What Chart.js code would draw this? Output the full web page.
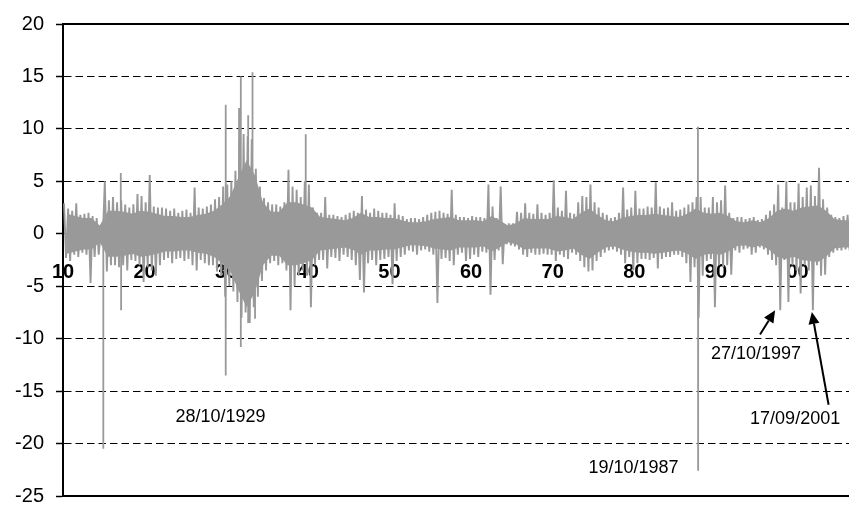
<!DOCTYPE html>
<html>
<head>
<title>Daily returns 1910-2006</title>
<script src="https://cdn.jsdelivr.net/npm/chart.js@4.4.0/dist/chart.umd.min.js"></script>
<style>
  html, body { margin: 0; padding: 0; background: #fff; overflow: hidden; }
  #wrap { width: 849px; height: 512px; overflow: hidden; }
</style>
</head>
<body>
<div id="wrap"><canvas id="returns" width="849" height="520"></canvas></div>
<script>
// first year on the axis; each array below has one value per year from here
var startYear = 1910;

// half-year envelope of the daily returns (%): first half hi/lo, second half hi/lo
var hiA = [
  2.9, 2.2, 1.8, 2.0, 1.5, 5.0, 3.5, 3.2, 2.5, 3.8,
  3.0, 2.6, 2.5, 2.2, 2.0, 2.3, 4.4, 2.4, 2.8, 3.5,
  4.7, 6.0, 9.5, 9.0, 4.5, 3.0, 2.8, 3.0, 4.5, 3.5,
  4.7, 2.0, 3.5, 1.8, 1.6, 2.0, 2.0, 2.3, 2.4, 2.0,
  1.8, 1.8, 1.4, 1.5, 1.6, 2.0, 2.2, 1.9, 1.8, 1.6,
  1.7, 1.6, 4.7, 1.5, 0.9, 1.0, 2.0, 2.0, 2.8, 1.8,
  5.1, 2.2, 2.0, 3.0, 3.5, 3.0, 2.0, 1.5, 2.0, 2.3,
  4.1, 2.4, 2.5, 2.6, 2.5, 2.2, 2.5, 3.0, 3.5, 2.5,
  3.0, 4.6, 1.5, 1.6, 1.5, 1.3, 1.8, 2.8, 2.5, 3.0,
  4.8, 4.4, 3.6, 3.3, 1.8, 1.5, 1.8
];
var loA = [
  -2.3, -2.0, -1.8, -4.7, -2.0, -3.6, -3.0, -3.0, -2.5, -3.0,
  -3.2, -4.0, -2.5, -2.8, -2.3, -2.4, -3.5, -2.8, -3.0, -4.0,
  -5.0, -6.5, -7.5, -7.0, -4.5, -2.8, -3.0, -3.5, -5.0, -3.5,
  -7.0, -2.5, -3.3, -2.3, -2.0, -2.5, -4.4, -2.8, -3.0, -2.4,
  -4.8, -2.2, -1.6, -2.0, -1.5, -2.0, -2.4, -2.6, -2.0, -2.6,
  -2.0, -1.7, -5.8, -1.6, -1.0, -1.2, -2.0, -1.8, -2.0, -2.0,
  -2.6, -2.2, -1.8, -2.6, -3.6, -2.6, -1.8, -1.5, -2.0, -2.2,
  -2.8, -2.4, -2.3, -2.4, -2.2, -2.0, -2.8, -3.2, -4.0, -2.4,
  -3.0, -3.0, -1.6, -1.5, -2.0, -1.3, -2.0, -3.0, -2.5, -3.0,
  -5.7, -3.5, -3.0, -3.9, -1.8, -1.6, -1.6
];
var hiB = [
  2.4, 2.9, 1.9, 1.7, 0.3, 3.2, 3.0, 2.8, 2.8, 3.6,
  5.6, 2.5, 2.4, 2.4, 2.2, 2.0, 2.5, 2.6, 3.3, 4.5,
  5.0, 9.0, 9.3, 6.2, 3.4, 2.8, 2.6, 6.1, 4.2, 5.0,
  2.5, 2.0, 1.8, 1.7, 1.8, 2.2, 3.6, 2.0, 2.2, 2.0,
  2.9, 1.7, 1.5, 1.4, 1.8, 2.1, 2.0, 4.2, 1.6, 1.5,
  1.6, 1.5, 2.6, 4.5, 1.0, 2.1, 2.9, 1.9, 2.0, 2.0,
  2.5, 4.1, 1.9, 3.6, 4.7, 2.5, 1.8, 1.6, 4.4, 2.5,
  2.4, 2.6, 4.9, 2.4, 3.0, 2.3, 2.8, 3.5, 2.5, 3.5,
  3.2, 2.0, 1.6, 1.4, 1.6, 1.4, 2.2, 4.7, 5.0, 3.0,
  3.5, 4.6, 6.3, 2.5, 1.6, 1.7, 1.6
];
var loB = [
  -2.6, -2.2, -2.0, -2.2, -0.5, -3.0, -3.2, -3.5, -2.6, -4.6,
  -3.5, -3.0, -2.3, -2.4, -2.6, -3.0, -2.5, -3.0, -3.6, -6.0,
  -5.5, -8.0, -8.5, -6.0, -3.5, -2.6, -2.8, -7.3, -4.0, -4.0,
  -3.0, -2.5, -2.2, -2.6, -2.2, -3.0, -5.6, -2.5, -2.5, -2.2,
  -2.6, -2.0, -1.7, -1.6, -1.7, -6.6, -2.3, -3.0, -1.8, -2.4,
  -2.2, -1.8, -2.5, -2.9, -1.1, -1.5, -2.2, -2.0, -1.9, -2.0,
  -2.0, -2.4, -2.0, -3.2, -3.5, -2.2, -1.6, -1.7, -2.8, -3.5,
  -2.4, -2.5, -3.3, -2.2, -2.0, -2.2, -4.6, -8.0, -2.6, -7.0,
  -3.2, -3.9, -1.8, -1.4, -1.8, -1.5, -2.5, -7.3, -6.5, -3.5,
  -3.0, -7.3, -4.0, -2.2, -1.6, -1.5, -1.7
];
// half-width of the solid part of the band, per year
var core = [
  1.9, 1.7, 1.5, 1.5, 0.8, 2.2, 2.2, 2.1, 1.9, 2.2,
  2.1, 1.9, 1.7, 1.7, 1.6, 1.6, 1.8, 1.9, 2.2, 2.8,
  3.6, 5.4, 7.0, 5.6, 3.0, 2.1, 2.1, 3.0, 3.0, 2.8,
  2.5, 1.6, 1.5, 1.4, 1.3, 1.5, 2.0, 1.6, 1.6, 1.5,
  1.5, 1.3, 1.1, 1.1, 1.2, 1.4, 1.5, 1.6, 1.3, 1.3,
  1.3, 1.2, 1.7, 1.3, 0.8, 1.0, 1.5, 1.4, 1.4, 1.4,
  1.7, 1.6, 1.4, 2.0, 2.4, 1.8, 1.3, 1.2, 1.5, 1.7,
  1.8, 1.8, 1.9, 1.8, 1.7, 1.6, 1.9, 2.4, 2.0, 1.9,
  2.0, 1.7, 1.2, 1.1, 1.3, 1.1, 1.5, 2.2, 2.4, 2.2,
  2.5, 2.6, 2.7, 2.2, 1.4, 1.3, 1.3
];

// isolated extreme days (date as decimal year, return %)
var spikeDates = [1914.94, 1917.08, 1917.12, 1929.93, 1929.94, 1931.57, 1931.78, 1931.79,
                  1932.67, 1932.70, 1933.22, 1933.53, 1939.74, 1987.79, 1987.80, 1987.83];
var spikeValues = [-20.5, 5.8, -7.3, -13.5, 12.3, 12.0, 15.0, -10.8,
                   -8.5, 11.3, 15.4, -8.1, 9.5, 10.2, -22.6, -8.0];

var tickYears = [1910, 1920, 1930, 1940, 1950, 1960, 1970, 1980, 1990, 2000];
var yTicks = [-25, -20, -15, -10, -5, 0, 5, 10, 15, 20];

// labels and arrows
var noteTexts = ['28/10/1929', '19/10/1987', '27/10/1997', '17/09/2001'];
var noteYears = [1929.3, 1979.9, 1994.9, 1999.7];
var noteValues = [-17.5, -22.3, -11.5, -17.7];
var arrowFromYears = [1995.4, 2003.8];
var arrowFromValues = [-9.6, -16.3];
var arrowToYears = [1997.25, 2001.75];
var arrowToValues = [-7.3, -7.45];

var grey = '#999999';
var font = 'Arial, "Liberation Sans", sans-serif';

var zigzag = [], coreTop = [], coreBottom = [], spikes = [];
for (var i = 0; i < hiA.length; i++) {
    var yr = startYear + i;
    zigzag.push({ x: yr + 0.125, y: hiA[i] });
    zigzag.push({ x: yr + 0.375, y: loA[i] });
    zigzag.push({ x: yr + 0.625, y: hiB[i] });
    zigzag.push({ x: yr + 0.875, y: loB[i] });
    coreTop.push({ x: yr + 0.5, y: core[i] });
    coreBottom.push({ x: yr + 0.5, y: -core[i] });
}
for (var j = 0; j < spikeDates.length; j++) {
    spikes.push({ x: spikeDates[j], y: 0 });
    spikes.push({ x: spikeDates[j], y: spikeValues[j] });
    spikes.push({ x: spikeDates[j], y: 0 });
}

// top and bottom edges of the plot frame
var framePlugin = {
    id: 'frame',
    afterDatasetsDraw: function (chart) {
        var ctx = chart.ctx, a = chart.chartArea;
        ctx.save();
        ctx.strokeStyle = '#000';
        ctx.lineWidth = 2;
        ctx.beginPath();
        ctx.moveTo(a.left, a.top);
        ctx.lineTo(a.right, a.top);
        ctx.moveTo(a.left, a.bottom);
        ctx.lineTo(a.right, a.bottom);
        ctx.stroke();
        ctx.restore();
    }
};

var notesPlugin = {
    id: 'notes',
    afterDraw: function (chart) {
        var ctx = chart.ctx, sx = chart.scales.x, sy = chart.scales.y;
        ctx.save();
        ctx.fillStyle = '#000';
        ctx.font = '18px ' + font;
        ctx.textAlign = 'center';
        ctx.textBaseline = 'middle';
        for (var k = 0; k < noteTexts.length; k++) {
            ctx.fillText(noteTexts[k], sx.getPixelForValue(noteYears[k]), sy.getPixelForValue(noteValues[k]));
        }
        ctx.strokeStyle = '#000';
        ctx.lineWidth = 2;
        for (var m = 0; m < arrowFromYears.length; m++) {
            var x1 = sx.getPixelForValue(arrowFromYears[m]), y1 = sy.getPixelForValue(arrowFromValues[m]);
            var x2 = sx.getPixelForValue(arrowToYears[m]), y2 = sy.getPixelForValue(arrowToValues[m]);
            var ang = Math.atan2(y2 - y1, x2 - x1);
            var headLen = 12, headW = 5.5;
            var bx = x2 - headLen * Math.cos(ang), by = y2 - headLen * Math.sin(ang);
            ctx.beginPath();
            ctx.moveTo(x1, y1);
            ctx.lineTo(bx, by);
            ctx.stroke();
            ctx.beginPath();
            ctx.moveTo(x2, y2);
            ctx.lineTo(bx + headW * Math.sin(ang), by - headW * Math.cos(ang));
            ctx.lineTo(bx - headW * Math.sin(ang), by + headW * Math.cos(ang));
            ctx.closePath();
            ctx.fill();
        }
        ctx.restore();
    }
};

var chart = new Chart(document.getElementById('returns').getContext('2d'), {
    type: 'line',
    data: {
        datasets: [
            { data: coreTop, borderWidth: 0, pointRadius: 0, fill: false },
            { data: coreBottom, borderWidth: 0, pointRadius: 0, fill: '-1', backgroundColor: grey },
            { data: zigzag, borderColor: grey, borderWidth: 1.9, pointRadius: 0, fill: false },
            { data: spikes, borderColor: grey, borderWidth: 1.8, pointRadius: 0, fill: false }
        ]
    },
    options: {
        responsive: false,
        animation: false,
        devicePixelRatio: 1,
        layout: { padding: { top: 21, bottom: 17, left: 0, right: 0 } },
        plugins: { legend: { display: false }, tooltip: { enabled: false } },
        elements: { line: { tension: 0 } },
        scales: {
            x: {
                type: 'linear',
                min: 1910,
                max: 2006.3,
                position: { y: 0 },
                z: 1,
                afterBuildTicks: function (s) {
                    s.ticks = tickYears.map(function (v) { return { value: v }; });
                },
                ticks: {
                    autoSkip: false,
                    maxRotation: 0,
                    padding: 27,
                    color: '#000',
                    font: { family: font, size: 20, weight: 'bold' },
                    callback: function (v) { return String(v % 100).padStart(2, '0'); }
                },
                grid: { display: false, drawTicks: false },
                border: { display: false }
            },
            y: {
                min: -25,
                max: 20,
                afterBuildTicks: function (s) {
                    s.ticks = yTicks.map(function (v) { return { value: v }; });
                },
                afterFit: function (s) { s.width = 63; },
                ticks: {
                    padding: 12,
                    color: '#000',
                    font: { family: font, size: 20 }
                },
                grid: {
                    color: function (c) {
                        return (c.tick && (c.tick.value === 20 || c.tick.value === -25)) ? 'rgba(0,0,0,0)' : '#000';
                    },
                    lineWidth: 1,
                    tickLength: 7,
                    tickColor: '#000',
                    tickWidth: 1.5,
                    tickBorderDash: []
                },
                border: { display: true, color: '#000', width: 2, dash: [7.5, 4] }
            }
        }
    },
    plugins: [framePlugin, notesPlugin]
});
</script>
</body>
</html>
